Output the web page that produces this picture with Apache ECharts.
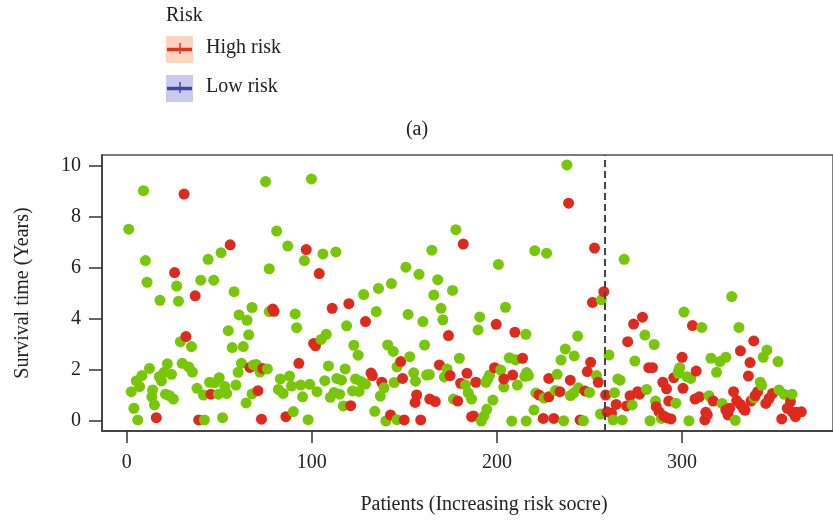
<!DOCTYPE html>
<html>
<head>
<meta charset="utf-8">
<script src="https://cdn.jsdelivr.net/npm/echarts@6/dist/echarts.min.js"></script>
<style>
  html, body { margin: 0; padding: 0; background: #fff; }
  #chart { width: 833px; height: 524px; }
</style>
</head>
<body>
<div id="chart"></div>
<script>
// Patients ordered by risk score: [patient rank, survival time in years]
const aliveCases = [
  [9.1, 9.03], [1.1, 7.52], [51, 6.6], [44, 6.34], [10.1, 6.29], [11, 5.44], [27, 5.29], [40, 5.52], [47, 5.52], [58, 5.07], [18, 4.73], [28, 4.7],
  [67.7, 4.45], [60.7, 4.16], [65, 3.95], [54.9, 3.54], [65.9, 3.38], [29, 3.11], [35, 2.92], [57, 2.88], [63, 2.92],
  [12.3, 2.06], [22, 2.24], [30, 2.26], [33.5, 2.12], [35.5, 1.92], [8.2, 1.78], [17.6, 1.74], [20.2, 1.91], [24.2, 1.83], [18.8, 1.57],
  [5.2, 1.57], [7, 1.35], [2.5, 1.15], [14, 1.22], [13.6, 0.95], [15, 0.63], [21, 1.05], [23, 1.0], [25.2, 0.86], [3.9, 0.5], [6, 0.04],
  [68.5, 2.2], [60.2, 1.91], [62, 2.26], [59, 1.41], [38, 1.28], [41.5, 1.02], [49.5, 1.05], [54, 1.08], [53, 1.35], [44.8, 1.52],
  [50, 1.7], [47.5, 1.5], [67.7, 1.06], [64.5, 0.71], [42, 0.04], [51.8, 0.13],
  [75, 9.39], [99.8, 9.49], [81, 7.45], [87, 6.86], [106, 6.55], [113, 6.63], [96, 6.29], [77, 5.97], [128, 4.96], [136, 5.2], [143, 5.39],
  [77, 4.29], [91, 4.2], [91.8, 3.66], [134.8, 4.29], [118.8, 3.73], [107.8, 3.4], [105, 3.2], [122.7, 2.97], [125, 2.58], [141, 2.98],
  [144, 2.73], [109, 2.16], [118, 2.04], [70, 2.22], [76, 2.04], [72, 1.92], [83, 1.65], [88, 1.76], [89, 1.37], [94, 1.41], [98.9, 1.44],
  [107, 1.58], [113.5, 1.67], [116, 1.6], [123.6, 1.65], [126.5, 1.55], [129, 1.45], [139, 1.3], [144.5, 1.51], [146, 2.12], [81.9, 1.24],
  [84.5, 1.08], [95, 0.95], [102.8, 1.15], [110, 0.93], [112, 1.12], [115, 1.05], [122, 1.18], [125.5, 1.16], [137, 0.98], [117, 0.59],
  [90, 0.37], [98, 0.05], [134, 0.38], [140, 0.0], [146, 0.05],
  [177.8, 7.5], [164.8, 6.7], [220.4, 6.68], [200.8, 6.14], [150.8, 6.03], [157.9, 5.75], [168, 5.54], [176, 5.12], [165.9, 4.94],
  [152, 4.18], [169.8, 4.42], [160, 3.9], [170.8, 3.97], [204.6, 4.46], [190.7, 4.08], [189.8, 3.57], [215.6, 3.4], [160.9, 2.98],
  [152.9, 2.52], [179.7, 2.46], [206.7, 2.48], [210, 2.4], [173, 2.04], [171.6, 1.73], [155, 1.89], [156, 1.56], [162, 1.8], [163.5, 1.82],
  [202, 2.0], [196, 1.8], [194, 1.52], [195, 1.65], [203.7, 1.33], [211, 1.41], [216, 1.9], [217, 1.78], [215, 1.75], [183, 1.41],
  [184.5, 1.1], [186.3, 0.86], [176.5, 0.86], [197.8, 0.82], [194.5, 0.46], [191.5, 0.0], [193, 0.2], [208, 0.0], [215.8, 0.0],
  [220, 0.43], [221, 1.1],
  [237.8, 10.04], [226.8, 6.58], [268.7, 6.34],
  [256.4, 4.75], [279.9, 3.37], [284.9, 3.0], [243.6, 3.33], [236.9, 2.82], [241.7, 2.55], [234.6, 2.39], [260.5, 2.59], [274.5, 2.35],
  [232.5, 1.83], [253.8, 1.78], [265.3, 1.65], [266.5, 1.6], [298, 1.96], [225.5, 0.9], [231.6, 1.2], [239.7, 1.0], [241.5, 1.1],
  [244, 1.3], [250, 1.12], [263.5, 1.11], [273, 0.63], [280.8, 1.24], [285.6, 0.78], [296.6, 0.7], [288.8, 0.1], [282.7, 0.01],
  [236, 0.01], [246.7, 0.01], [255.9, 0.27], [262.7, 0.04], [267.6, 0.04], [301, 4.27],
  [326.8, 4.88], [310.6, 3.67], [330.7, 3.67], [345.8, 2.78], [343.8, 2.5], [351.8, 2.33], [315.6, 2.46], [323.6, 2.5], [320.4, 2.33],
  [318.6, 1.91], [298.7, 2.09], [298, 1.87], [302.6, 1.74], [304.7, 1.67], [342.2, 1.52], [343, 1.4], [314.5, 0.99], [321.6, 0.69],
  [338.9, 0.9], [352.3, 1.22], [355, 1.05], [359.4, 1.05], [328.7, 0.03], [303.7, 0.01]
];

const deadCases = [
  [31, 8.9], [55.9, 6.91], [25.9, 5.82], [37, 4.91],
  [32, 3.31], [66.6, 2.1], [45.5, 1.05], [38.9, 0.04], [16, 0.13],
  [97, 6.72], [104, 5.78], [120, 4.6], [78.9, 4.39], [79.6, 4.3], [111, 4.42], [129, 3.9], [101, 3.04], [102, 2.95], [93, 2.26],
  [73.5, 2.06], [132.7, 1.78], [132, 1.88], [137.8, 1.52], [70.9, 1.19], [121, 0.6], [86, 0.17], [72.8, 0.07], [142.5, 0.24],
  [181.8, 6.94], [173.8, 3.35], [199.6, 3.79], [209.7, 3.48], [213.8, 2.46], [148, 2.33], [168.9, 2.2], [174.7, 1.78], [183.8, 1.87],
  [149, 1.67], [198.7, 2.09], [208.5, 1.8], [203.7, 1.65], [188.6, 1.52], [180.4, 1.48], [156.6, 1.02], [155.8, 0.73], [163.7, 0.86],
  [166.7, 0.76], [178.8, 0.78], [186.3, 0.17], [187.3, 0.2], [149.9, 0.04], [158.8, 0.04],
  [238.7, 8.54], [252.7, 6.78], [257.7, 5.07], [251.6, 4.65], [273.8, 3.8], [278.6, 4.07], [270.6, 3.11], [250.6, 2.3], [248.8, 1.94],
  [228, 1.67], [239.6, 1.6], [254.7, 1.52], [282, 2.09], [284, 2.09], [289.6, 1.52], [291.6, 1.26], [295.5, 1.7], [300, 2.5],
  [222.7, 1.02], [228, 0.95], [234, 1.15], [247.5, 1.18], [258.7, 1.02], [264.4, 0.65], [270, 0.59], [271.9, 0.99], [276, 1.15],
  [277, 1.05], [286, 0.56], [287.5, 0.37], [292.8, 0.78], [290, 0.2], [292, 0.12], [294, 0.08], [225, 0.1], [230.7, 0.1], [244.9, 0.04],
  [259.5, 0.36], [261.9, 0.3],
  [305.6, 3.74], [338.7, 3.14], [331.5, 2.75], [336.7, 2.29], [307.6, 1.96], [335.8, 1.76], [300.5, 1.28], [307, 0.86], [309.3, 0.95],
  [316.8, 0.78], [327.8, 1.15], [329.5, 0.8], [331.5, 0.65], [333, 0.5], [334, 0.42], [337.2, 0.78], [340.8, 1.15], [339.5, 1.0],
  [345.2, 0.69], [347, 0.89], [348.8, 1.08], [358.5, 0.76], [356.8, 0.5], [359.4, 0.36], [362, 0.34], [364.4, 0.36], [361.2, 0.17],
  [353.8, 0.08], [323.6, 0.43], [325.7, 0.5], [324.8, 0.24], [312.8, 0.34], [312.3, 0.04], [313.6, 0.24]
];

const xTicks = [0, 100, 200, 300];
const yTicks = [0, 2, 4, 6, 8, 10];
const riskCutoff = 258;
const legendItems = ['High risk', 'Low risk'];

const ALIVE_COLOR = '#77c608';
const DEAD_COLOR = '#de2a1c';
const FONT = "'Liberation Serif', 'DejaVu Serif', serif";
const TEXT = '20px ' + FONT;

// Plot the patients in rank order, so later ranks sit on top of earlier ones
const points = aliveCases.map(p => ({ value: p, itemStyle: { color: ALIVE_COLOR } }))
  .concat(deadCases.map(p => ({ value: p, itemStyle: { color: DEAD_COLOR } })))
  .sort((a, b) => a.value[0] - b.value[0]);

// Legend keys: tinted box, a horizontal stroke and a small cross bar
function legendKey(y, fill, stroke) {
  return [
    { type: 'rect', shape: { x: 166, y: y, width: 27, height: 27 }, style: { fill: fill } },
    { type: 'line', shape: { x1: 167, y1: y + 13.5, x2: 192, y2: y + 13.5 }, style: { stroke: stroke, lineWidth: 3.5 } },
    { type: 'line', shape: { x1: 180, y1: y + 7, x2: 180, y2: y + 18 }, style: { stroke: stroke, lineWidth: 1.5 } }
  ];
}

const chart = echarts.init(document.getElementById('chart'), null, { renderer: 'canvas' });
chart.setOption({
  animation: false,
  backgroundColor: '#ffffff',
  textStyle: { fontFamily: FONT },
  grid: {
    left: 102, top: 155, right: -10, bottom: 93,
    show: true, borderColor: '#555', borderWidth: 1.5, backgroundColor: 'transparent'
  },
  xAxis: {
    type: 'value',
    min: -13.32, max: 381.5,
    splitLine: { show: false },
    axisLine: { show: true, onZero: false, lineStyle: { color: '#333', width: 1.5 } },
    axisTick: { show: true, inside: false, length: 12, customValues: xTicks, lineStyle: { color: '#333', width: 1.5 } },
    axisLabel: { customValues: xTicks, margin: 22, fontSize: 20, color: '#222', fontFamily: FONT }
  },
  yAxis: {
    type: 'value',
    min: -0.392, max: 10.43,
    splitLine: { show: false },
    axisLine: { show: true, onZero: false, lineStyle: { color: '#333', width: 1.5 } },
    axisTick: { show: true, inside: false, length: 13, customValues: yTicks, lineStyle: { color: '#333', width: 1.5 } },
    axisLabel: { customValues: yTicks, margin: 21, fontSize: 20, color: '#222', fontFamily: FONT }
  },
  graphic: [
    { type: 'text', style: { text: 'Risk', x: 166, y: 16, font: TEXT, fill: '#222', verticalAlign: 'middle' } },
    ...legendKey(36, '#fdd3c1', '#e0341f'),
    { type: 'text', style: { text: legendItems[0], x: 206, y: 48, font: TEXT, fill: '#222', verticalAlign: 'middle' } },
    ...legendKey(75, '#cacaef', '#3c48a8'),
    { type: 'text', style: { text: legendItems[1], x: 206, y: 87, font: TEXT, fill: '#222', verticalAlign: 'middle' } },
    { type: 'text', style: { text: '(a)', x: 417, y: 130, font: TEXT, fill: '#222', align: 'center', verticalAlign: 'middle' } },
    { type: 'text', style: { text: 'Patients (Increasing risk socre)', x: 484, y: 505, font: TEXT, fill: '#222', align: 'center', verticalAlign: 'middle' } },
    { type: 'text', rotation: Math.PI / 2, x: 23, y: 293, style: { text: 'Survival time (Years)', x: 0, y: 0, font: TEXT, fill: '#222', align: 'center', verticalAlign: 'middle' } }
  ],
  series: [{
    type: 'scatter',
    symbol: 'circle',
    symbolSize: 11,
    itemStyle: { opacity: 1 },
    data: points,
    markLine: {
      silent: true,
      symbol: 'none',
      label: { show: false },
      lineStyle: { color: '#444', width: 2, type: [7, 4] },
      data: [{ xAxis: riskCutoff }]
    }
  }]
});
</script>
</body>
</html>
